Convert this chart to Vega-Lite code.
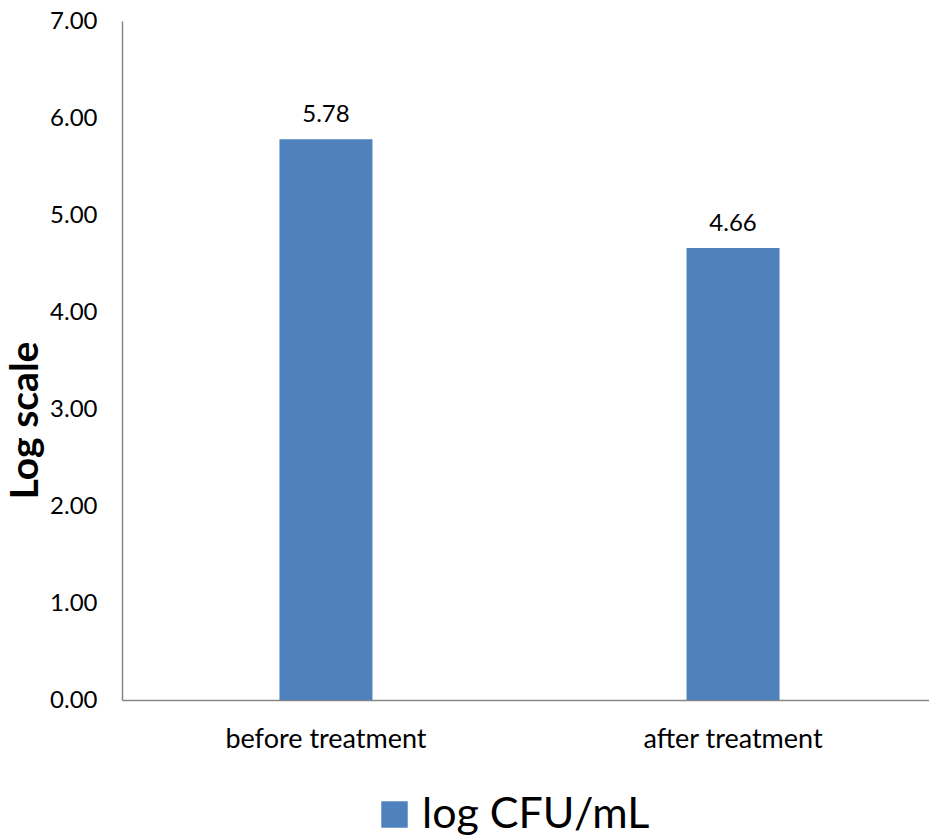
{
  "$schema": "https://vega.github.io/schema/vega-lite/v6.json",
  "width": 807,
  "height": 679,
  "autosize": {"type": "none"},
  "padding": {"left": 122, "top": 21, "right": 0, "bottom": 135},
  "background": "white",
  "config": {
    "view": {"stroke": null},
    "font": "Lato",
    "axis": {"grid": false, "ticks": false, "domainColor": "#868686", "domainWidth": 1.5, "labelColor": "#000000", "labelFont": "Lato"}
  },
  "data": {
    "values": [
      {"stage": "before treatment", "value": 5.78, "series": "log CFU/mL"},
      {"stage": "after treatment", "value": 4.66, "series": "log CFU/mL"}
    ]
  },
  "encoding": {
    "x": {
      "field": "stage", "type": "nominal", "sort": ["before treatment", "after treatment"],
      "scale": {"paddingInner": 0.7715, "paddingOuter": 0.377, "align": 0.513},
      "axis": {"title": null, "labelAngle": 0, "labelFontSize": 27, "labelPadding": 26, "labelLimit": 400}
    },
    "y": {
      "field": "value", "type": "quantitative",
      "scale": {"domain": [0, 7], "nice": false},
      "axis": {"title": "Log scale", "titleFontSize": 39, "titleFontWeight": "bold", "titleColor": "#000000", "titlePadding": 4, "titleY": 399, "format": ".2f", "values": [0,1,2,3,4,5,6,7], "labelFontSize": 24, "labelPadding": 25}
    }
  },
  "layer": [
    {
      "mark": {"type": "bar"},
      "encoding": {
        "color": {
          "field": "series", "type": "nominal",
          "scale": {"range": ["#4F81BD"]},
          "legend": {"title": null, "orient": "none", "legendX": 251, "legendY": 772, "padding": 0, "direction": "horizontal", "symbolType": "square", "symbolSize": 700, "symbolStrokeWidth": 0, "labelFontSize": 43, "labelLimit": 500, "labelOffset": 6, "labelColor": "#000000", "labelFont": "Lato"}
        }
      }
    },
    {
      "mark": {"type": "text", "dy": -24, "fontSize": 24, "color": "#000000", "font": "Lato"},
      "encoding": {
        "text": {"field": "value", "type": "quantitative", "format": ".2f"}
      }
    }
  ]
}
